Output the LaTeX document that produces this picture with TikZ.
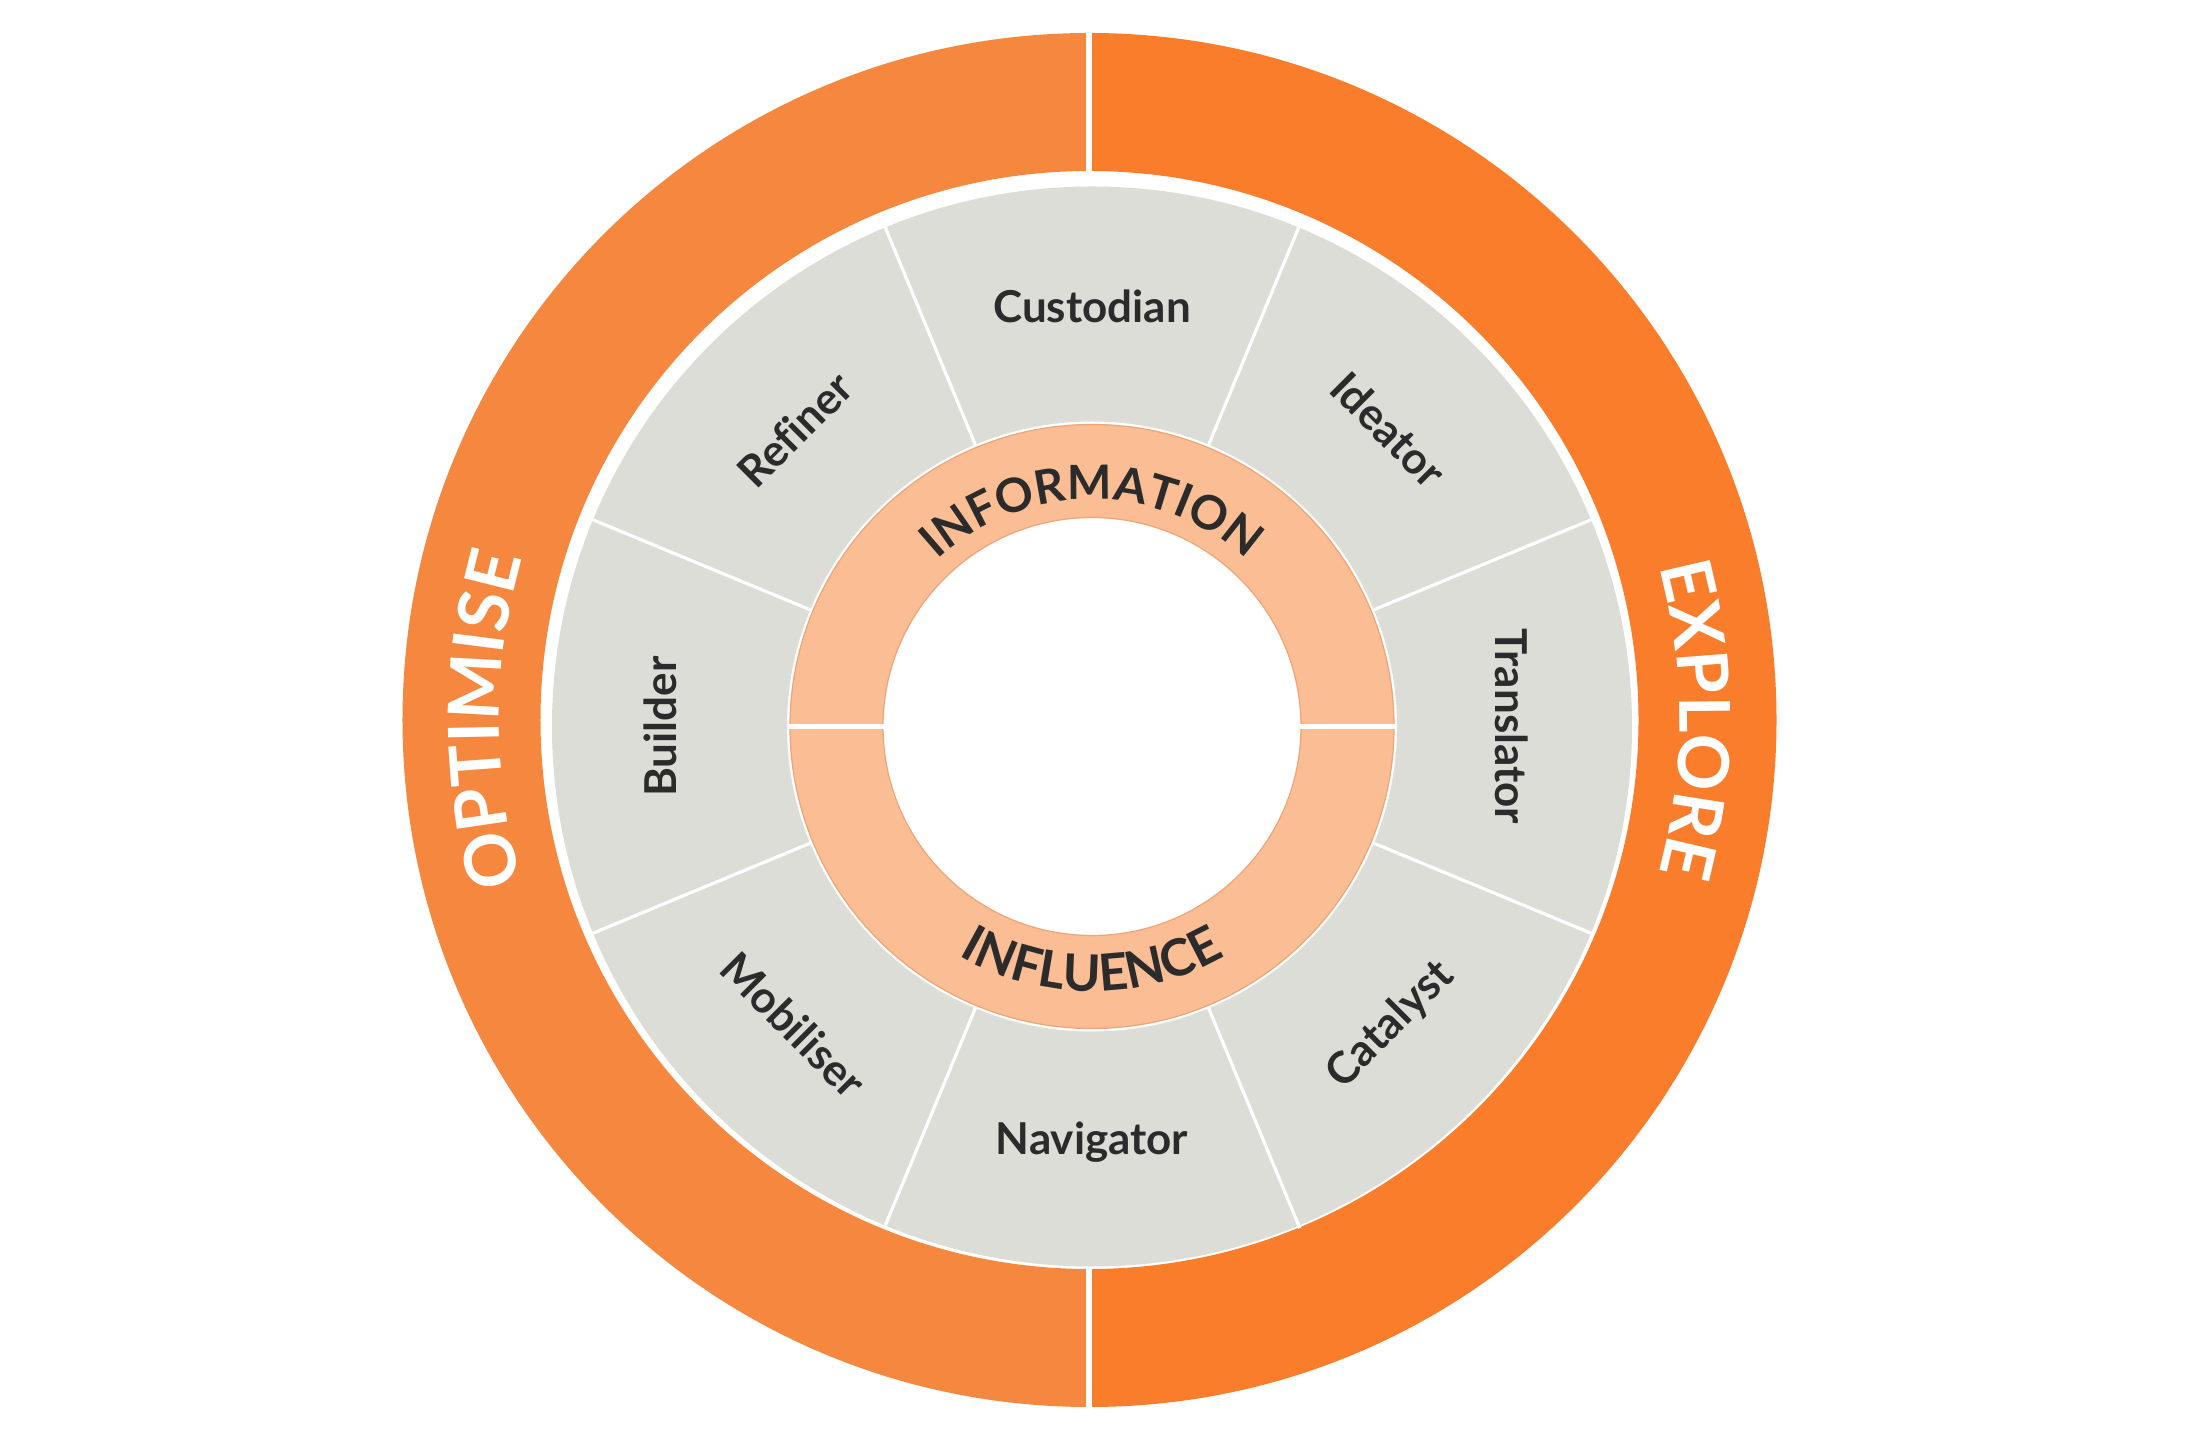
\documentclass[tikz,border=0pt]{standalone}
\usepackage{fontspec}
\setmainfont{Lato}[Ligatures=NoCommon]
\usetikzlibrary{decorations.text}
\definecolor{optL}{HTML}{F5873F}
\definecolor{expR}{HTML}{F97D2B}
\definecolor{segGray}{HTML}{DCDDD7}
\definecolor{peach}{HTML}{FBBD93}
\definecolor{peachLine}{HTML}{EDA579}
\definecolor{txtDark}{HTML}{2B2B2B}
\tikzset{
  seglabel/.style={text=txtDark, font=\bfseries\fontsize{12.5}{15}\selectfont, inner sep=0pt},
  divider/.style={white, line width=0.9pt},
  ringtext/.style 2 args={decorate, decoration={text along path, text align=center, text color=txtDark,
      text={|\bfseries\fontsize{#2}{17}\selectfont|#1}}},
  outertext/.style={decorate, decoration={text along path, text align=center, text color=white,
      text={|\bfseries\fontsize{20}{24}\selectfont|#1}}}
}
\begin{document}
\begin{tikzpicture}[x=0.01cm,y=0.01cm]
\useasboundingbox (-1092,-713.5) rectangle (1094,726.5);
% outer ring (own centre)
\begin{scope}[shift={(-2.5,6.5)}]
  \fill[optL] (90:687) arc[start angle=90,end angle=270,radius=687] -- (270:549) arc[start angle=270,end angle=90,radius=549] -- cycle;
  \fill[expR] (90:687) arc[start angle=90,end angle=-90,radius=687] -- (-90:549) arc[start angle=-90,end angle=90,radius=549] -- cycle;
  \draw[white, line width=1.9pt] (-0.5,700) -- (-0.5,530);
  \draw[white, line width=1.9pt] (-0.5,-700) -- (-0.5,-530);
  \path[outertext=OPTIMISE] (200:590) arc[start angle=200,end angle=160,radius=590];
  \path[outertext=EXPLORE] (20:590) arc[start angle=20,end angle=-20,radius=590];
\end{scope}
% grey segment ring
\fill[segGray, even odd rule] (0,0) circle[radius=540] (0,0) circle[radius=305];
\foreach \a in {22.5,67.5,...,337.5}
  \draw[divider] (\a:303) -- (\a:543);
% inner peach ring
\filldraw[fill=peach, draw=peachLine, line width=0.35pt, even odd rule] (0,0) circle[radius=302] (0,0) circle[radius=209];
\draw[white, line width=1.2pt] (180:207) -- (180:304);
\draw[white, line width=1.2pt] (0:207) -- (0:304);
\path[ringtext={INFORMATION}{13.4}] (160:227) arc[start angle=160,end angle=20,radius=227];
\path[ringtext={INFLUENCE}{14.5}] (200:265) arc[start angle=200,end angle=340,radius=265];
% segment labels
\node[seglabel] (custodian) at (90:420) {Custodian};
\node[seglabel, rotate=-45] (ideator) at (45:420) {Ideator};
\node[seglabel, rotate=-90] (translator) at (0:420) {Translator};
\node[seglabel, rotate=45] (catalyst) at (-45:422) {Catalyst};
\node[seglabel] (navigator) at (-90:416) {Navigator};
\node[seglabel, rotate=-45] (mobiliser) at (-135:422) {Mobiliser};
\node[seglabel, rotate=90] (builder) at (180:432) {Builder};
\node[seglabel, rotate=45] (refiner) at (135:420) {Refiner};
\end{tikzpicture}
\end{document}
